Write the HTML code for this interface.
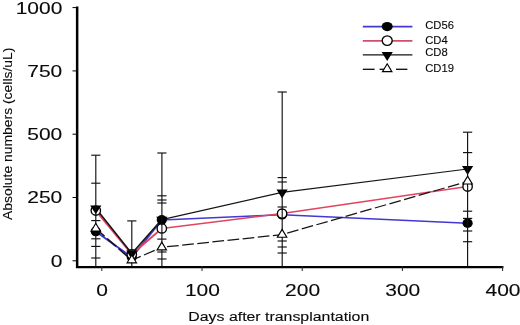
<!DOCTYPE html>
<html><head><meta charset="utf-8"><title>chart</title>
<style>
html,body{margin:0;padding:0;background:#fff;}
body{width:520px;height:325px;overflow:hidden;font-family:"Liberation Sans",sans-serif;}
svg{display:block;filter:blur(0.45px)}
text{font-family:"Liberation Sans",sans-serif;fill:#0a0a0a;stroke:#0a0a0a;stroke-width:0.12px}
</style></head><body>
<svg width="520" height="325" viewBox="0 0 520 325">
<rect width="520" height="325" fill="#fff"/>

<polyline points="95.8,231.5 131.8,257.3 161.8,219.9" fill="none" stroke="#4238d2" stroke-width="1.95" stroke-linejoin="round"/>
<polyline points="161.8,219.9 282.1,214.8 467.6,223.2" fill="none" stroke="#4238d2" stroke-width="1.5" stroke-linejoin="round"/>
<polyline points="95.8,210.6 131.8,254.2 161.8,228.4" fill="none" stroke="#e04560" stroke-width="1.95" stroke-linejoin="round"/>
<polyline points="161.8,228.4 282.1,213.6 467.6,186.6" fill="none" stroke="#e04560" stroke-width="1.5" stroke-linejoin="round"/>
<polyline points="95.8,208.3 131.8,253.5 161.8,219.6" fill="none" stroke="#151515" stroke-width="1.49" stroke-linejoin="round"/>
<polyline points="161.8,219.6 282.1,192.4 467.6,169" fill="none" stroke="#151515" stroke-width="1.15" stroke-linejoin="round"/>
<ellipse cx="95.8" cy="231.5" rx="5.1" ry="4.8" fill="#000"/>
<ellipse cx="131.8" cy="257.3" rx="5.1" ry="4.8" fill="#000"/>
<ellipse cx="161.8" cy="219.9" rx="5.1" ry="4.8" fill="#000"/>
<ellipse cx="282.1" cy="214.8" rx="5.1" ry="4.8" fill="#000"/>
<ellipse cx="467.6" cy="223.2" rx="5.1" ry="4.8" fill="#000"/>
<ellipse cx="95.8" cy="210.6" rx="4.7" ry="4.6" fill="#fff" stroke="#000" stroke-width="1.35"/>
<ellipse cx="131.8" cy="254.2" rx="4.7" ry="4.6" fill="#fff" stroke="#000" stroke-width="1.35"/>
<ellipse cx="161.8" cy="228.4" rx="4.7" ry="4.6" fill="#fff" stroke="#000" stroke-width="1.35"/>
<ellipse cx="282.1" cy="213.6" rx="4.7" ry="4.6" fill="#fff" stroke="#000" stroke-width="1.35"/>
<ellipse cx="467.6" cy="186.6" rx="4.7" ry="4.6" fill="#fff" stroke="#000" stroke-width="1.35"/>
<polygon points="90.2,205.4 101.39999999999999,205.4 95.8,214.3" fill="#000"/>
<polygon points="126.20000000000002,250.6 137.4,250.6 131.8,259.5" fill="#000"/>
<polygon points="156.20000000000002,216.7 167.4,216.7 161.8,225.6" fill="#000"/>
<polygon points="276.5,189.5 287.70000000000005,189.5 282.1,198.4" fill="#000"/>
<polygon points="462.0,166.1 473.20000000000005,166.1 467.6,175.0" fill="#000"/>
<g stroke="#111" stroke-width="1.15" fill="none">
<line x1="95.8" y1="155.2" x2="95.8" y2="266"/>
<line x1="91.2" y1="155.2" x2="100.39999999999999" y2="155.2"/>
<line x1="91.2" y1="183.2" x2="100.39999999999999" y2="183.2"/>
<line x1="91.2" y1="220.6" x2="100.39999999999999" y2="220.6"/>
<line x1="91.2" y1="238.8" x2="100.39999999999999" y2="238.8"/>
<line x1="91.2" y1="246.4" x2="100.39999999999999" y2="246.4"/>
<line x1="91.2" y1="258" x2="100.39999999999999" y2="258"/>
<line x1="131.8" y1="220.9" x2="131.8" y2="266"/>
<line x1="127.20000000000002" y1="220.9" x2="136.4" y2="220.9"/>
<line x1="127.20000000000002" y1="250" x2="136.4" y2="250"/>
<line x1="161.9" y1="153" x2="161.9" y2="266"/>
<line x1="157.3" y1="153" x2="166.5" y2="153"/>
<line x1="157.3" y1="195.8" x2="166.5" y2="195.8"/>
<line x1="157.3" y1="200" x2="166.5" y2="200"/>
<line x1="157.3" y1="203" x2="166.5" y2="203"/>
<line x1="157.3" y1="239.1" x2="166.5" y2="239.1"/>
<line x1="157.3" y1="252" x2="166.5" y2="252"/>
<line x1="157.3" y1="259" x2="166.5" y2="259"/>
<line x1="282.2" y1="92" x2="282.2" y2="266"/>
<line x1="277.59999999999997" y1="92" x2="286.8" y2="92"/>
<line x1="277.59999999999997" y1="177.6" x2="286.8" y2="177.6"/>
<line x1="277.59999999999997" y1="182" x2="286.8" y2="182"/>
<line x1="277.59999999999997" y1="207" x2="286.8" y2="207"/>
<line x1="277.59999999999997" y1="241" x2="286.8" y2="241"/>
<line x1="277.59999999999997" y1="247" x2="286.8" y2="247"/>
<line x1="277.59999999999997" y1="253" x2="286.8" y2="253"/>
<line x1="467.6" y1="132.2" x2="467.6" y2="266"/>
<line x1="463.0" y1="132.2" x2="472.20000000000005" y2="132.2"/>
<line x1="463.0" y1="152.6" x2="472.20000000000005" y2="152.6"/>
<line x1="463.0" y1="211.2" x2="472.20000000000005" y2="211.2"/>
<line x1="463.0" y1="218.4" x2="472.20000000000005" y2="218.4"/>
<line x1="463.0" y1="231" x2="472.20000000000005" y2="231"/>
<line x1="463.0" y1="241.7" x2="472.20000000000005" y2="241.7"/>
</g>
<line x1="95.8" y1="228.5" x2="131.8" y2="260.2" stroke="#151515" stroke-width="1.6" stroke-dasharray="11.7 3.5" stroke-dashoffset="0"/>
<line x1="131.8" y1="260.2" x2="161.8" y2="247.3" stroke="#151515" stroke-width="1.25" stroke-dasharray="11.7 3.5" stroke-dashoffset="1.95"/>
<line x1="161.8" y1="247.3" x2="282.1" y2="234.6" stroke="#151515" stroke-width="1.25" stroke-dasharray="11.7 3.5" stroke-dashoffset="9.9"/>
<line x1="282.1" y1="234.6" x2="467.6" y2="181.4" stroke="#151515" stroke-width="1.25" stroke-dasharray="11.7 3.5" stroke-dashoffset="9.9"/>
<polygon points="91.1,231.1 100.5,231.1 95.8,223.3" fill="#fff" stroke="#000" stroke-width="1.15" stroke-linejoin="miter"/>
<polygon points="127.10000000000001,262.8 136.5,262.8 131.8,255.0" fill="#fff" stroke="#000" stroke-width="1.15" stroke-linejoin="miter"/>
<polygon points="157.10000000000002,249.9 166.5,249.9 161.8,242.10000000000002" fill="#fff" stroke="#000" stroke-width="1.15" stroke-linejoin="miter"/>
<polygon points="277.40000000000003,237.2 286.8,237.2 282.1,229.4" fill="#fff" stroke="#000" stroke-width="1.15" stroke-linejoin="miter"/>
<polygon points="462.90000000000003,184.0 472.3,184.0 467.6,176.20000000000002" fill="#fff" stroke="#000" stroke-width="1.15" stroke-linejoin="miter"/>
<g stroke="#000" fill="none">
<line x1="77.15" y1="6.6" x2="77.15" y2="268" stroke-width="2.5"/>
<line x1="76" y1="267.1" x2="503.4" y2="267.1" stroke-width="2.4"/>
<line x1="72.5" y1="260.8" x2="77" y2="260.8" stroke-width="1"/>
<line x1="72.5" y1="197.5" x2="77" y2="197.5" stroke-width="1"/>
<line x1="72.5" y1="134.20000000000002" x2="77" y2="134.20000000000002" stroke-width="1"/>
<line x1="72.5" y1="70.90000000000003" x2="77" y2="70.90000000000003" stroke-width="1"/>
<line x1="72.5" y1="7.600000000000023" x2="77" y2="7.600000000000023" stroke-width="1"/>
<line x1="101.8" y1="266" x2="101.8" y2="271" stroke-width="1" stroke="#222"/>
<line x1="202.0" y1="266" x2="202.0" y2="271" stroke-width="1" stroke="#222"/>
<line x1="302.2" y1="266" x2="302.2" y2="271" stroke-width="1" stroke="#222"/>
<line x1="402.40000000000003" y1="266" x2="402.40000000000003" y2="271" stroke-width="1" stroke="#222"/>
<line x1="502.6" y1="266" x2="502.6" y2="271" stroke-width="1" stroke="#222"/>
</g>
<text transform="translate(62.3,266.7) scale(1.22,1)" font-size="17.2" text-anchor="end">0</text>
<text transform="translate(62.3,203.4) scale(1.22,1)" font-size="17.2" text-anchor="end">250</text>
<text transform="translate(62.3,140.10000000000002) scale(1.22,1)" font-size="17.2" text-anchor="end">500</text>
<text transform="translate(62.3,76.80000000000004) scale(1.22,1)" font-size="17.2" text-anchor="end">750</text>
<text transform="translate(62.3,13.500000000000023) scale(1.22,1)" font-size="17.2" text-anchor="end">1000</text>
<text transform="translate(102.2,295.9) scale(1.22,1)" font-size="17.2" text-anchor="middle">0</text>
<text transform="translate(202.4,295.9) scale(1.22,1)" font-size="17.2" text-anchor="middle">100</text>
<text transform="translate(302.59999999999997,295.9) scale(1.22,1)" font-size="17.2" text-anchor="middle">200</text>
<text transform="translate(402.8,295.9) scale(1.22,1)" font-size="17.2" text-anchor="middle">300</text>
<text transform="translate(503.0,295.9) scale(1.22,1)" font-size="17.2" text-anchor="middle">400</text>
<text transform="translate(188.3,320.9) scale(1.195,1)" font-size="13.3">Days after transplantation</text>
<text transform="translate(12.4,219.9) rotate(-90) scale(1.022,1)" font-size="13.6">Absolute numbers (cells/uL)</text>
<line x1="362.8" y1="26.6" x2="412.4" y2="26.6" stroke="#4238d2" stroke-width="1.7"/>
<ellipse cx="387.2" cy="26.6" rx="5.5" ry="4.6" fill="#000"/>
<text transform="translate(425.2,28.7) scale(1.06,1)" font-size="10.6">CD56</text>
<line x1="362.8" y1="40.9" x2="412.4" y2="40.9" stroke="#cf5068" stroke-width="1.7"/>
<ellipse cx="387.2" cy="40.6" rx="5.0" ry="4.75" fill="#fff" stroke="#000" stroke-width="1.35"/>
<text transform="translate(425.2,44.0) scale(1.06,1)" font-size="10.6">CD4</text>
<line x1="362.8" y1="54.9" x2="412.4" y2="54.9" stroke="#151515" stroke-width="1.3"/>
<polygon points="381.59999999999997,52.0 392.8,52.0 387.2,60.9" fill="#000"/>
<text transform="translate(425.2,56.3) scale(1.06,1)" font-size="10.6">CD8</text>
<line x1="362.8" y1="69.3" x2="374.6" y2="69.3" stroke="#151515" stroke-width="1.35"/>
<line x1="379.6" y1="69.3" x2="391" y2="69.3" stroke="#151515" stroke-width="1.35"/>
<line x1="396" y1="69.3" x2="407.4" y2="69.3" stroke="#151515" stroke-width="1.35"/>
<polygon points="382.5,71.6 391.9,71.6 387.2,63.8" fill="#fff" stroke="#000" stroke-width="1.15" stroke-linejoin="miter"/>
<text transform="translate(425.2,72.2) scale(1.06,1)" font-size="10.6">CD19</text>
</svg></body></html>
